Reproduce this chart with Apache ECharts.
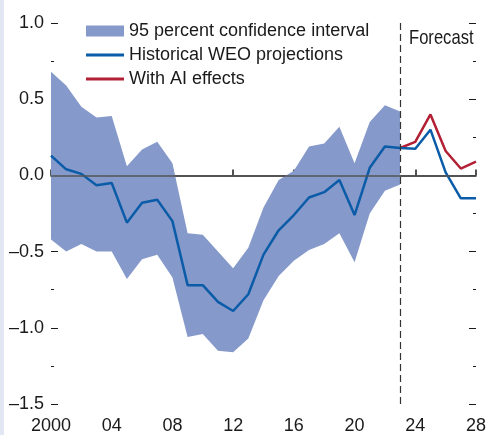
<!DOCTYPE html>
<html>
<head>
<meta charset="UTF-8">
<script src="https://cdn.jsdelivr.net/npm/echarts@6/dist/echarts.min.js"></script>
<style>
  html, body { margin: 0; padding: 0; background: #fff; }
  #main { width: 489px; height: 435px; }
  #edge { position: absolute; left: 0; top: 0; width: 4px; height: 435px; background: #e2e7f3; }
</style>
</head>
<body>
<div id="main"></div>
<div id="edge"></div>
<script>
// 年份
var years = ['2000','2001','2002','2003','2004','2005','2006','2007','2008','2009',
  '2010','2011','2012','2013','2014','2015','2016','2017','2018','2019',
  '2020','2021','2022','2023','2024','2025','2026','2027','2028'];
// 95% 置信区间 下沿 / 上沿 (2000-2023)
var bandLow = [-0.42,-0.50,-0.45,-0.50,-0.50,-0.68,-0.55,-0.52,-0.67,-1.06,
  -1.04,-1.15,-1.16,-1.07,-0.82,-0.66,-0.56,-0.49,-0.45,-0.38,
  -0.57,-0.25,-0.10,-0.06];
var bandHigh = [0.68,0.59,0.45,0.38,0.39,0.06,0.17,0.22,0.08,-0.38,
  -0.39,-0.50,-0.61,-0.475,-0.21,-0.03,0.03,0.19,0.21,0.32,
  0.08,0.35,0.46,0.42];
// Historical WEO projections
var historical = [0.13,0.04,0.01,-0.065,-0.05,-0.31,-0.18,-0.16,-0.30,-0.72,
  -0.72,-0.83,-0.89,-0.78,-0.52,-0.36,-0.26,-0.145,-0.11,-0.03,
  -0.26,0.05,0.19,0.18,0.175,0.30,0.02,-0.15,-0.15];
// With AI effects
var withAI = [null,null,null,null,null,null,null,null,null,null,
  null,null,null,null,null,null,null,null,null,null,
  null,null,null,0.18,0.22,0.40,0.16,0.045,0.09];

var FONT = '"Liberation Sans", Arial, sans-serif';
var INK = '#1a1a1a';

var bandDiff = bandHigh.map(function (v, i) { return +(v - bandLow[i]).toFixed(3); });

var myChart = echarts.init(document.getElementById('main'));

function yLabel(v) {
  if (Math.abs(v) < 1e-9) return '0.0';
  return v < 0 ? '\u2013' + Math.abs(v).toFixed(1) : v.toFixed(1);
}

var yBase = {
  type: 'value', min: -1.5, max: 1, interval: 0.5,
  axisLine: { show: false },
  splitLine: { show: false },
  axisTick: { show: true, inside: true, length: 7, lineStyle: { color: INK, width: 1 } },
  minorTick: { show: true, splitNumber: 2, length: 3, lineStyle: { color: INK, width: 1 } }
};

function legendItem(name, top, h) {
  return {
    data: [name], left: 86, top: top, padding: 0, icon: 'rect',
    itemWidth: 38, itemHeight: h, selectedMode: false,
    textStyle: { fontFamily: FONT, fontSize: 18, color: INK }
  };
}

var option = {
  animation: false,
  grid: { left: 51, right: 10, top: 23, bottom: 28, containLabel: false },
  legend: [
    legendItem('95 percent confidence interval', 22, 11),
    legendItem('Historical WEO projections', 46, 3),
    legendItem('With AI effects', 70, 3)
  ],
  xAxis: {
    type: 'category', data: years, boundaryGap: false,
    axisLine: { lineStyle: { color: INK, width: 1.5 } },
    axisTick: { inside: true, length: 6, interval: function (i) { return i % 4 === 0; },
      lineStyle: { color: INK, width: 1.5 } },
    axisLabel: {
      interval: function (i) { return i % 4 === 0; },
      margin: 13, fontFamily: FONT, fontSize: 18, color: INK,
      formatter: function (v) { return v === '2000' ? v : v.slice(2); }
    }
  },
  yAxis: [
    Object.assign({}, yBase, { position: 'left',
      axisLabel: { margin: 7, fontFamily: FONT, fontSize: 18, color: INK, formatter: yLabel } }),
    Object.assign({}, yBase, { position: 'right', axisLabel: { show: false } })
  ],
  graphic: [
    { type: 'text', x: 409, y: 28, scaleX: 0.79, z: 10,
      style: { text: 'Forecast', fontSize: 21, fontFamily: FONT, fill: INK } }
  ],
  series: [
    {
      name: 'bandLow', type: 'line', stack: 'band', stackStrategy: 'all',
      data: bandLow, symbol: 'none', lineStyle: { opacity: 0 }, silent: true, z: 1
    },
    {
      name: '95 percent confidence interval', type: 'line', stack: 'band', stackStrategy: 'all',
      data: bandDiff, symbol: 'none', lineStyle: { opacity: 0 },
      itemStyle: { color: '#8599ca' },
      areaStyle: { color: '#8599ca', opacity: 1 }, silent: true, z: 1,
      markLine: {
        silent: true, symbol: 'none', label: { show: false },
        data: [
          { yAxis: 0, lineStyle: { color: '#555', width: 1.5, type: 'solid' } },
          { xAxis: '2023', lineStyle: { color: '#333', width: 1.2, type: [7, 4] } }
        ]
      }
    },
    {
      name: 'With AI effects', type: 'line', data: withAI, symbol: 'none',
      itemStyle: { color: '#b22035' },
      lineStyle: { color: '#b22035', width: 2.5 }, z: 3
    },
    {
      name: 'Historical WEO projections', type: 'line', data: historical, symbol: 'none',
      itemStyle: { color: '#0b5ca8' },
      lineStyle: { color: '#0b5ca8', width: 2.5 }, z: 4
    }
  ]
};
myChart.setOption(option);
</script>
</body>
</html>
